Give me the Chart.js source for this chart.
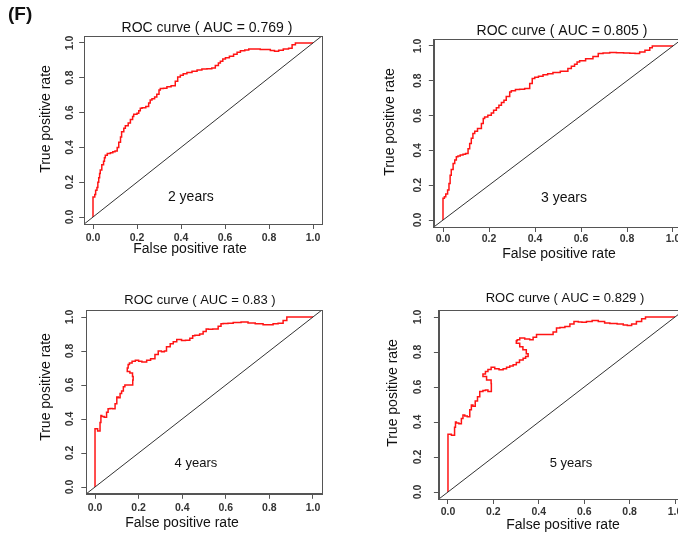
<!DOCTYPE html>
<html>
<head>
<meta charset="utf-8">
<script src="https://cdn.jsdelivr.net/npm/chart.js@4.4.1/dist/chart.umd.min.js"></script>
<style>
  html, body { margin: 0; padding: 0; background: #fff; width: 678px; height: 539px; overflow: hidden; }
  canvas { position: absolute; }
</style>
</head>
<body>
<canvas id="c1"></canvas>
<canvas id="c2"></canvas>
<canvas id="c3"></canvas>
<canvas id="c4"></canvas>
<script>
// --- Dados ---
const tickValues = [0, 0.2, 0.4, 0.6, 0.8, 1.0];
const tickLabels = ['0.0', '0.2', '0.4', '0.6', '0.8', '1.0'];
const axisRange = [-0.04, 1.04];
const panelYears = ['2 years', '3 years', '4 years', '5 years'];
const aucValues = ['0.769', '0.805', '0.83', '0.829'];

// 2 anos
const fpr2 = [0, 0, 0.008, 0.012, 0.018, 0.022, 0.026, 0.03, 0.033, 0.04, 0.048, 0.052, 0.056, 0.065, 0.079, 0.09, 0.1, 0.11, 0.117, 0.125, 0.13, 0.14, 0.147, 0.16, 0.17, 0.18, 0.185, 0.2, 0.208, 0.215, 0.223, 0.24, 0.253, 0.26, 0.268, 0.28, 0.29, 0.3, 0.306, 0.32, 0.336, 0.355, 0.374, 0.385, 0.397, 0.41, 0.427, 0.45, 0.473, 0.495, 0.518, 0.54, 0.556, 0.57, 0.579, 0.59, 0.602, 0.62, 0.639, 0.655, 0.67, 0.69, 0.708, 0.735, 0.76, 0.785, 0.806, 0.825, 0.844, 0.865, 0.889, 0.905, 0.92, 0.927, 0.96, 1.0];
const tpr2 = [0, 0.106, 0.115, 0.13, 0.154, 0.17, 0.2, 0.225, 0.25, 0.27, 0.30, 0.32, 0.34, 0.355, 0.365, 0.37, 0.375, 0.38, 0.40, 0.43, 0.46, 0.49, 0.51, 0.525, 0.54, 0.56, 0.577, 0.59, 0.596, 0.61, 0.625, 0.628, 0.635, 0.655, 0.673, 0.68, 0.69, 0.705, 0.73, 0.738, 0.74, 0.748, 0.754, 0.78, 0.804, 0.815, 0.823, 0.83, 0.837, 0.845, 0.85, 0.852, 0.856, 0.87, 0.885, 0.895, 0.908, 0.915, 0.923, 0.935, 0.946, 0.955, 0.96, 0.965, 0.965, 0.963, 0.962, 0.957, 0.952, 0.958, 0.965, 0.97, 0.99, 1.0, 1.0, 1.0];

// 3 anos
const fpr3 = [0, 0, 0.006, 0.012, 0.02, 0.026, 0.031, 0.036, 0.044, 0.051, 0.058, 0.065, 0.075, 0.087, 0.098, 0.109, 0.116, 0.123, 0.13, 0.138, 0.15, 0.167, 0.175, 0.181, 0.195, 0.21, 0.22, 0.232, 0.243, 0.254, 0.265, 0.275, 0.29, 0.297, 0.315, 0.333, 0.355, 0.377, 0.388, 0.399, 0.415, 0.435, 0.455, 0.478, 0.51, 0.543, 0.558, 0.572, 0.583, 0.594, 0.62, 0.652, 0.675, 0.696, 0.725, 0.754, 0.785, 0.812, 0.835, 0.855, 0.878, 0.899, 0.91, 0.92, 0.96, 1.0];
const tpr3 = [0, 0.115, 0.125, 0.134, 0.15, 0.172, 0.21, 0.258, 0.29, 0.325, 0.345, 0.363, 0.368, 0.373, 0.378, 0.382, 0.41, 0.44, 0.47, 0.497, 0.51, 0.526, 0.555, 0.583, 0.592, 0.602, 0.615, 0.631, 0.645, 0.66, 0.675, 0.688, 0.71, 0.736, 0.742, 0.75, 0.752, 0.755, 0.785, 0.813, 0.82, 0.826, 0.835, 0.841, 0.848, 0.855, 0.87, 0.883, 0.895, 0.908, 0.915, 0.927, 0.94, 0.956, 0.96, 0.962, 0.961, 0.96, 0.958, 0.956, 0.965, 0.975, 0.99, 1.0, 1.0, 1.0];

// 4 anos
const fpr4 = [0, 0, 0.012, 0.023, 0.027, 0.031, 0.042, 0.053, 0.06, 0.069, 0.08, 0.092, 0.1, 0.107, 0.115, 0.122, 0.13, 0.137, 0.148, 0.16, 0.173, 0.175, 0.172, 0.16, 0.148, 0.152, 0.158, 0.17, 0.185, 0.2, 0.215, 0.237, 0.255, 0.275, 0.29, 0.305, 0.318, 0.328, 0.345, 0.359, 0.375, 0.397, 0.415, 0.435, 0.448, 0.458, 0.48, 0.496, 0.51, 0.52, 0.54, 0.565, 0.578, 0.588, 0.61, 0.634, 0.67, 0.702, 0.735, 0.771, 0.795, 0.817, 0.84, 0.863, 0.88, 0.893, 0.95, 1.0];
const tpr4 = [0, 0.343, 0.343, 0.33, 0.38, 0.42, 0.415, 0.41, 0.44, 0.46, 0.462, 0.46, 0.49, 0.53, 0.525, 0.55, 0.565, 0.59, 0.6, 0.6, 0.6, 0.63, 0.65, 0.67, 0.68, 0.70, 0.72, 0.73, 0.74, 0.745, 0.74, 0.735, 0.745, 0.755, 0.78, 0.80, 0.795, 0.80, 0.825, 0.843, 0.855, 0.867, 0.862, 0.863, 0.875, 0.89, 0.893, 0.9, 0.915, 0.93, 0.928, 0.93, 0.945, 0.96, 0.962, 0.963, 0.967, 0.97, 0.965, 0.96, 0.955, 0.955, 0.96, 0.963, 0.98, 1.0, 1.0, 1.0];

// 5 anos
const fpr5 = [0, 0, 0.015, 0.029, 0.033, 0.037, 0.048, 0.059, 0.066, 0.074, 0.085, 0.096, 0.103, 0.11, 0.12, 0.13, 0.14, 0.154, 0.165, 0.176, 0.191, 0.19, 0.17, 0.154, 0.165, 0.176, 0.19, 0.206, 0.225, 0.243, 0.258, 0.272, 0.287, 0.301, 0.315, 0.331, 0.342, 0.353, 0.345, 0.33, 0.316, 0.301, 0.305, 0.316, 0.338, 0.36, 0.375, 0.39, 0.404, 0.43, 0.463, 0.478, 0.493, 0.515, 0.537, 0.555, 0.574, 0.59, 0.61, 0.635, 0.662, 0.69, 0.713, 0.745, 0.772, 0.79, 0.809, 0.83, 0.853, 0.87, 0.882, 0.94, 1.0];
const tpr5 = [0, 0.335, 0.33, 0.325, 0.37, 0.40, 0.395, 0.39, 0.42, 0.44, 0.435, 0.43, 0.47, 0.497, 0.49, 0.52, 0.545, 0.574, 0.58, 0.583, 0.574, 0.62, 0.64, 0.66, 0.675, 0.688, 0.70, 0.713, 0.705, 0.698, 0.705, 0.713, 0.72, 0.727, 0.74, 0.755, 0.765, 0.774, 0.79, 0.813, 0.83, 0.85, 0.865, 0.87, 0.88, 0.875, 0.87, 0.885, 0.9, 0.9, 0.9, 0.915, 0.937, 0.94, 0.946, 0.96, 0.975, 0.972, 0.97, 0.975, 0.98, 0.975, 0.966, 0.963, 0.96, 0.955, 0.952, 0.96, 0.975, 0.99, 1.0, 1.0, 1.0];

const fprSeries = [fpr2, fpr3, fpr4, fpr5];
const tprSeries = [tpr2, tpr3, tpr4, tpr5];

// Posição de cada painel na página (canvas + área do gráfico, em px relativos ao canvas)
const layouts = [
  { left: 0,   top: 0,   w: 340, h: 265, area: [84.2, 36.0, 321.8, 224.0], title: [207, 28, 14], xTitle: [190, 249], yTitle: [46, 119], yTickX: 70, xTickPad: 2.7, note: [0.445, 0.115, 14], tag: '(F)' },
  { left: 340, top: 0,   w: 360, h: 265, area: [93.8, 39.0, 342.2, 227.0], title: [222, 31, 14], xTitle: [219, 254], yTitle: [50, 122], yTickX: 78, xTickPad: 0.7, note: [0.526, 0.126, 14] },
  { left: 0,   top: 270, w: 340, h: 269, area: [86.3, 40.2, 321.7, 223.8], title: [200, 30, 13], xTitle: [182, 253], yTitle: [46, 117], yTickX: 70, xTickPad: 2.7, note: [0.463, 0.141, 13] },
  { left: 340, top: 270, w: 360, h: 269, area: [98.9, 40.0, 344.1, 229.0], title: [225, 28, 13], xTitle: [223, 255], yTitle: [53, 123], yTickX: 78, xTickPad: 1.7, note: [0.542, 0.166, 13] }
];

const FONT = '"Liberation Sans", Arial, sans-serif';

// Plugin que desenha a caixa, textos e rótulos do eixo y girados (estilo R)
const rocPlugin = {
  id: 'rocExtras',
  afterDraw(chart) {
    const { ctx, chartArea: a, scales } = chart;
    const cfg = chart.options.rocCfg;
    ctx.save();
    // caixa
    ctx.strokeStyle = '#555';
    ctx.lineWidth = 1;
    ctx.strokeRect(Math.round(a.left) + 0.5, Math.round(a.top) + 0.5,
      Math.round(a.right) - Math.round(a.left), Math.round(a.bottom) - Math.round(a.top));

    ctx.fillStyle = '#111';
    ctx.textAlign = 'center';
    ctx.textBaseline = 'middle';

    // título
    ctx.font = `${cfg.title[2]}px ${FONT}`;
    ctx.fillText(`ROC curve ( AUC = ${cfg.auc} )`, cfg.title[0], cfg.title[1]);

    // títulos dos eixos
    ctx.font = `14px ${FONT}`;
    ctx.fillText('False positive rate', cfg.xTitle[0], cfg.xTitle[1]);
    ctx.save();
    ctx.translate(cfg.yTitle[0], cfg.yTitle[1]);
    ctx.rotate(-Math.PI / 2);
    ctx.fillText('True positive rate', 0, 0);
    ctx.restore();

    // rótulos do eixo y (girados)
    ctx.fillStyle = '#333';
    ctx.font = `bold 10.5px ${FONT}`;
    tickValues.forEach((v, i) => {
      const y = scales.y.getPixelForValue(v);
      ctx.save();
      ctx.translate(cfg.yTickX, y);
      ctx.rotate(-Math.PI / 2);
      ctx.fillText(tickLabels[i], 0, 0);
      ctx.restore();
    });

    // anotação "N years"
    ctx.fillStyle = '#111';
    ctx.font = `${cfg.note[2]}px ${FONT}`;
    ctx.fillText(cfg.years, scales.x.getPixelForValue(cfg.note[0]), scales.y.getPixelForValue(cfg.note[1]));

    // letra do painel
    if (cfg.tag) {
      ctx.textAlign = 'left';
      ctx.textBaseline = 'alphabetic';
      ctx.font = `bold 19px ${FONT}`;
      ctx.fillText(cfg.tag, 8, 20);
    }
    ctx.restore();
  }
};

function eixo(extra) {
  return Object.assign({
    type: 'linear',
    min: axisRange[0],
    max: axisRange[1],
    afterBuildTicks: s => { s.ticks = tickValues.map(v => ({ value: v })); },
    grid: { display: true, drawOnChartArea: false, drawTicks: true, tickLength: 5, color: '#555' },
    border: { display: true, color: '#555' }
  }, extra);
}

function criarPainel(idx) {
  const L = layouts[idx];
  const canvas = document.getElementById('c' + (idx + 1));
  canvas.width = L.w;
  canvas.height = L.h;
  canvas.style.left = L.left + 'px';
  canvas.style.top = L.top + 'px';

  const [aL, aT, aR, aB] = L.area;
  const pontos = fprSeries[idx].map((x, i) => ({ x: x, y: tprSeries[idx][i] }));
  const diagonal = [{ x: axisRange[0], y: axisRange[0] }, { x: axisRange[1], y: axisRange[1] }];

  return new Chart(canvas, {
    type: 'scatter',
    data: {
      datasets: [
        { data: diagonal, showLine: true, borderColor: '#333', borderWidth: 1, pointRadius: 0 },
        // degraus como na curva ROC original
        { data: pontos, showLine: true, borderColor: '#ff1414', borderWidth: 1.5, pointRadius: 0, stepped: 'after' }
      ]
    },
    options: {
      responsive: false,
      animation: false,
      events: [],
      layout: { padding: { left: 0, top: aT, right: L.w - aR, bottom: 0 } },
      plugins: { legend: { display: false }, tooltip: { enabled: false } },
      scales: {
        x: eixo({
          afterFit: s => { s.height = L.h - aB; },
          ticks: {
            autoSkip: false, maxRotation: 0, padding: L.xTickPad,
            color: '#333', font: { family: FONT, size: 10.5, weight: 'bold' },
            callback: v => tickLabels[tickValues.indexOf(v)]
          }
        }),
        y: eixo({
          afterFit: s => { s.width = aL; },
          ticks: { display: false }
        })
      },
      rocCfg: Object.assign({ auc: aucValues[idx], years: panelYears[idx] }, L)
    },
    plugins: [rocPlugin]
  });
}

document.addEventListener('DOMContentLoaded', () => {
  [0, 1, 2, 3].forEach(criarPainel);
});
</script>
</body>
</html>
